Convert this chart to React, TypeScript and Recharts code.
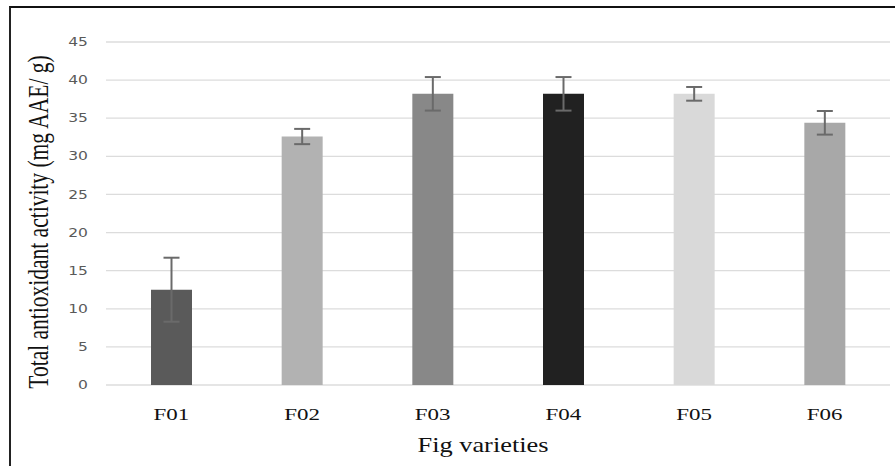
import React from "react";
import { BarChart, Bar, XAxis, YAxis, CartesianGrid, Cell, ErrorBar, Label } from "recharts";

const varieties = ["F01", "F02", "F03", "F04", "F05", "F06"];
const activity = [12.5, 32.6, 38.2, 38.2, 38.2, 34.4];
const activityErr = [4.2, 1.0, 2.2, 2.2, 0.9, 1.55];
const yTicks = [0, 5, 10, 15, 20, 25, 30, 35, 40, 45];

const barColors = ["#5a5a5a", "#b2b2b2", "#888888", "#212121", "#d9d9d9", "#a8a8a8"];
const STRETCH = 1.35;
const SERIF = "'Liberation Serif', 'Times New Roman', serif";

const data = varieties.map((name, i) => ({ name, value: activity[i], err: activityErr[i] }));

function XTick(props: any) {
  const { x, payload } = props;
  return (
    <text
      transform={`translate(${x},420) scale(${STRETCH},1)`}
      textAnchor="middle"
      fontFamily={SERIF}
      fontSize={17}
      fill="#111"
    >
      {payload.value}
    </text>
  );
}

function YTick(props: any) {
  const { y, payload } = props;
  return (
    <text
      transform={`translate(88,${y}) scale(${STRETCH},1)`}
      textAnchor="end"
      dy="0.36em"
      fontFamily="'DejaVu Sans', sans-serif"
      fontSize={11.5}
      fill="#595959"
    >
      {payload.value}
    </text>
  );
}

export default function App() {
  return (
    <div style={{ position: "absolute", left: 0, top: 0, width: 895, height: 466, background: "#fff" }}>
      <div
        style={{
          position: "absolute",
          left: 9,
          top: 6,
          right: 0,
          bottom: 0,
          borderTop: "2px solid #111",
          borderLeft: "2px solid #222",
        }}
      />
      <BarChart
        width={895}
        height={466}
        data={data}
        margin={{ top: 42, right: 5, bottom: 0, left: 46 }}
        style={{ position: "absolute", left: 0, top: 0 }}
      >
        <CartesianGrid vertical={false} stroke="#dcdcdc" strokeWidth={1.3} />
        <XAxis
          dataKey="name"
          axisLine={false}
          tickLine={false}
          tickSize={0}
          height={81}
          tick={<XTick />}
          interval={0}
        >
          <Label
            content={() => (
              <text
                transform={`translate(483,452) scale(${STRETCH * 0.93},1)`}
                textAnchor="middle"
                fontFamily={SERIF}
                fontSize={21}
                fill="#111"
              >
                Fig varieties
              </text>
            )}
          />
        </XAxis>
        <YAxis
          domain={[0, 45]}
          ticks={yTicks}
          axisLine={false}
          tickLine={false}
          tickSize={0}
          width={60}
          tick={<YTick />}
          interval={0}
        >
          <Label
            content={() => (
              <text
                transform={`translate(48,222) scale(${STRETCH},1) rotate(-90)`}
                textAnchor="middle"
                fontFamily={SERIF}
                fontSize={21.5}
                fill="#111"
              >
                Total antioxidant activity (mg AAE/ g)
              </text>
            )}
          />
        </YAxis>
        <Bar dataKey="value" barSize={41} isAnimationActive={false}>
          {data.map((d, i) => (
            <Cell key={d.name} fill={barColors[i]} />
          ))}
          <ErrorBar dataKey="err" width={8} stroke="#6a6a6a" strokeWidth={2} direction="y" />
        </Bar>
      </BarChart>
    </div>
  );
}
